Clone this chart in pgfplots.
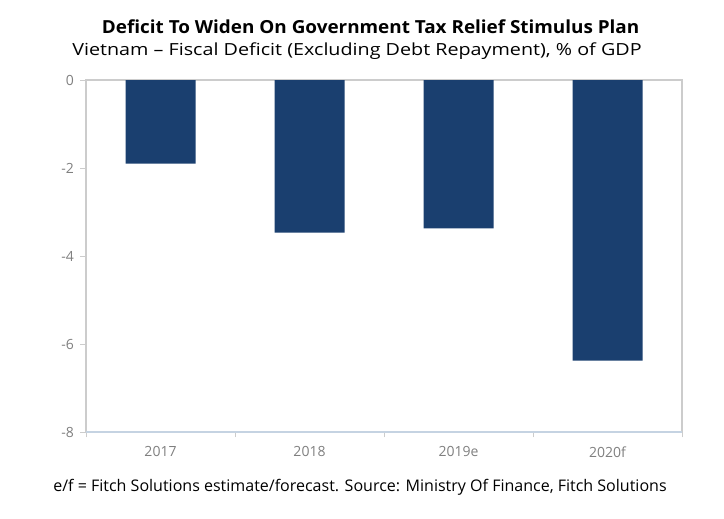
\documentclass[border=0pt]{standalone}
\usepackage{pgfplots}
\pgfplotsset{compat=1.18}
\usepackage{fontspec}
\setmainfont{Open Sans}
\usepackage{graphicx}
\definecolor{barblue}{HTML}{1A3F6F}
\definecolor{ticklab}{HTML}{7F7F7F}
\definecolor{boxgray}{HTML}{CCCCCC}
\definecolor{baseblue}{HTML}{C5D3E2}
\begin{document}
\begin{tikzpicture}
\path[use as bounding box] (0,0) rectangle (543pt,388.5pt);
\begin{axis}[
  at={(64.5pt,64.5pt)}, anchor=south west,
  scale only axis, width=447pt, height=264pt,
  xmin=-0.5, xmax=3.5, ymin=-8, ymax=0,
  ytick={-8,-6,-4,-2,0},
  xtick={0,1,2,3},
  xticklabels={2017,2018,2019e,2020f},
  minor xtick={-0.5,0.5,1.5,2.5,3.5},
  major x tick style={draw=none},
  minor x tick style={draw=boxgray, line width=0.6pt},
  minor tick length=4pt,
  y tick style={draw=boxgray, line width=0.6pt},
  major tick length=4.5pt,
  xtick pos=bottom, ytick pos=left,
  tick align=outside,
  axis line style={draw=boxgray, line width=0.8pt},
  tick label style={font=\fontsize{10.5}{12}\selectfont, text=ticklab},
  /pgf/number format/assume math mode=true,
  xticklabel style={yshift=-3pt},
  yticklabel style={xshift=-1pt},
  ybar, bar width=52.5pt,
]
\addplot[fill=barblue, draw=none] coordinates {(0,-1.9) (1,-3.47) (2,-3.37) (3,-6.38)};
\draw[baseblue, line width=0.8pt] (rel axis cs:0,0) -- (rel axis cs:1,0);
\end{axis}
\node[anchor=base] at (278pt,363pt) {\resizebox{403pt}{\height}{\fontsize{13.5}{16}\selectfont\bfseries Deficit To Widen On Government Tax Relief Stimulus Plan}};
\node[anchor=base] at (267.75pt,346.5pt) {\resizebox{427pt}{\height}{\fontsize{12.5}{15}\selectfont Vietnam – Fiscal Deficit (Excluding Debt Repayment), \% of GDP}};
\node[anchor=base] at (270pt,19.7pt) {\resizebox{460pt}{\height}{\fontsize{12}{14}\selectfont e/f = Fitch Solutions estimate/forecast. Source: Ministry Of Finance, Fitch Solutions}};
\end{tikzpicture}
\end{document}
